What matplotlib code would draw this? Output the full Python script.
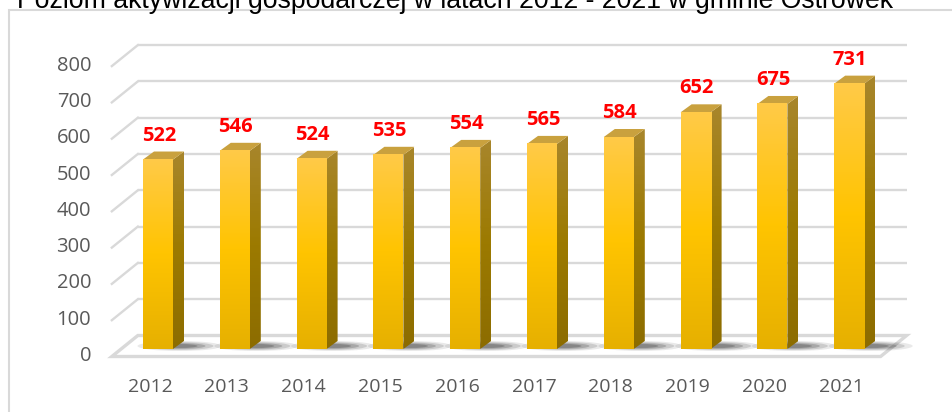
import matplotlib.pyplot as plt
import numpy as np
from matplotlib.patches import Polygon, Ellipse
from matplotlib.transforms import offset_copy
from matplotlib.colors import LinearSegmentedColormap

years = ['2012', '2013', '2014', '2015', '2016', '2017', '2018', '2019', '2020', '2021']
values = [522, 546, 524, 535, 554, 565, 584, 652, 675, 731]
yticks = [0, 100, 200, 300, 400, 500, 600, 700, 800]
title = 'Poziom aktywizacji gospodarczej w latach 2012 - 2021 w gminie Ostrówek'

W, H = 952, 412
fig = plt.figure(figsize=(W / 100, H / 100), dpi=100)
# axes placed so that bar plane value 0 sits at y=349px, x=-0.5 at 119.6px
ax = fig.add_axes([119.6 / W, 63 / H, 768 / W, 290.4 / H])
ax.set_xlim(-0.5, 9.5)
ax.set_ylim(0, 800)
ax.axis('off')

# pixel -> data size helpers (axes geometry is fixed)
ppx = 768 / 10.0        # px per x unit
ppy = 290.4 / 800.0     # px per y unit


def dd(dx, dy):
    return dx / ppx, dy / ppy


grid_c = '#d9d9d9'
x0, x1 = -0.48, 9.53
fx, fy = dd(-9.3, -7.5)   # front edge offset
bx, by = dd(16.7, 13.5)   # back wall offset

# floor
floor = Polygon([(x0 + fx, fy), (x1 + fx, fy), (x1 + bx, by), (x0 + bx, by)],
                closed=True, facecolor='white', edgecolor=grid_c, lw=2.4,
                clip_on=False, zorder=1)
ax.add_patch(floor)

# gridlines (back wall) and left diagonals
for v in yticks[1:]:
    ax.plot([x0 + bx, x1 + bx], [v + by, v + by], color=grid_c, lw=1.7,
            clip_on=False, zorder=1, solid_capstyle='butt')
    ax.plot([x0 + fx, x0 + bx], [v + fy, v + by], color=grid_c, lw=1.7,
            clip_on=False, zorder=1)

# tick labels
lab_tr = offset_copy(ax.transData, fig=fig, x=-30, y=-7.5 + 0.5, units='dots')
for v in yticks:
    ax.text(x0, v, str(v), transform=lab_tr, ha='right', va='center',
            fontsize=14.5, color='#595959', family='Open Sans')

bw = 30 / ppx
sdx, sdy = dd(11, 8)
cmap = LinearSegmentedColormap.from_list('gold', ['#ffca48', '#ffc400', '#e6b000'])
side_cmap = LinearSegmentedColormap.from_list('side', ['#a8862c', '#9c7a00', '#8c6c00'])
grad = np.linspace(0, 1, 256).reshape(-1, 1)

for i, v in enumerate(values):
    # floor shadow
    for k, a in enumerate([0.10, 0.16, 0.22, 0.28]):
        sw, sh = dd(84 - k * 16, 10 - k * 2)
        ax.add_patch(Ellipse((i + 0.28, dd(0, 3)[1]), sw, sh, facecolor='#303030',
                             edgecolor='none', alpha=a, clip_on=False, zorder=2))
    l, r = i - bw / 2, i + bw / 2
    ax.imshow(grad, cmap=cmap, extent=(l, r, 0, v), aspect='auto',
              zorder=4, clip_on=False)
    side = Polygon([(r, 0), (r + sdx, sdy), (r + sdx, v + sdy), (r, v)],
                   facecolor='none', edgecolor='none', clip_on=False, zorder=3)
    ax.add_patch(side)
    im = ax.imshow(grad, cmap=side_cmap, extent=(r, r + sdx, 0, v + sdy),
                   aspect='auto', zorder=3, clip_on=True)
    im.set_clip_path(side)
    ax.add_patch(Polygon([(l, v), (r, v), (r + sdx, v + sdy), (l + sdx, v + sdy)],
                         facecolor='#c9a13e', edgecolor='none', clip_on=False, zorder=3))

ax.set_xlim(-0.5, 9.5)
ax.set_ylim(0, 800)

val_tr = offset_copy(ax.transData, fig=fig, x=1, y=24, units='dots')
yr_tr = offset_copy(ax.transData, fig=fig, x=-8, y=-38, units='dots')
for i, v in enumerate(values):
    ax.text(i, v, str(v), transform=val_tr, ha='center', va='center',
            fontsize=14.5, fontweight='bold', color='#ff0000', family='Open Sans')
    ax.text(i, 0, years[i], transform=yr_tr, ha='center', va='center',
            fontsize=14, color='#595959', family='Open Sans')

# chart frame
fig.patches.append(plt.Rectangle((9 / W, -0.1), 1.0, 1 - 10 / H + 0.1,
                                 transform=fig.transFigure, fill=False,
                                 edgecolor=grid_c, lw=1.5))

fig.text(17 / W, 1 - 8 / H, title, ha='left', va='baseline', fontsize=19.2,
         family='Liberation Sans', color='black')
fig.text(3 / W, 1 - 5 / H, '–', ha='right', va='baseline', fontsize=19.2,
         family='Liberation Sans', color='black')

fig.savefig('out.png', dpi=100)
